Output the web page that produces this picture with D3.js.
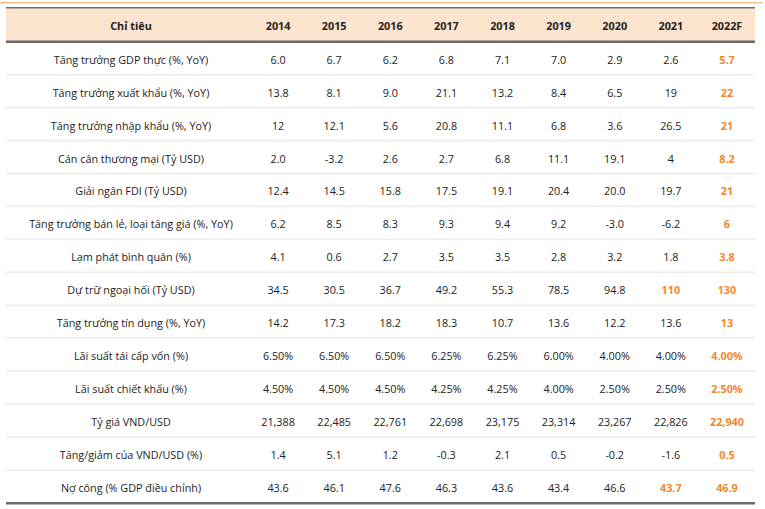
<!DOCTYPE html>
<html><head><meta charset="utf-8">
<script src="https://cdn.jsdelivr.net/npm/d3@7"></script>
<style>
html,body{margin:0;padding:0;background:#fff;}
svg{display:block;}
text{font-family:"Open Sans",sans-serif;}
</style></head>
<body>
<script>
const headerLabel = "Chỉ tiêu";
const years = ["2014","2015","2016","2017","2018","2019","2020","2021","2022F"];
const indicators = [
  "Tăng trưởng GDP thực (%, YoY)",
  "Tăng trưởng xuất khẩu (%, YoY)",
  "Tăng trưởng nhập khẩu (%, YoY)",
  "Cán cân thương mại (Tỷ USD)",
  "Giải ngân FDI (Tỷ USD)",
  "Tăng trưởng bán lẻ, loại tăng giá (%, YoY)",
  "Lạm phát bình quân (%)",
  "Dự trữ ngoại hối (Tỷ USD)",
  "Tăng trưởng tín dụng (%, YoY)",
  "Lãi suất tái cấp vốn (%)",
  "Lãi suất chiết khấu (%)",
  "Tỷ giá VND/USD",
  "Tăng/giảm của VND/USD (%)",
  "Nợ công (% GDP điều chỉnh)"
];
const gdpGrowth      = ["6.0","6.7","6.2","6.8","7.1","7.0","2.9","2.6","5.7"];
const exportGrowth   = ["13.8","8.1","9.0","21.1","13.2","8.4","6.5","19","22"];
const importGrowth   = ["12","12.1","5.6","20.8","11.1","6.8","3.6","26.5","21"];
const tradeBalance   = ["2.0","-3.2","2.6","2.7","6.8","11.1","19.1","4","8.2"];
const fdiDisbursed   = ["12.4","14.5","15.8","17.5","19.1","20.4","20.0","19.7","21"];
const retailGrowth   = ["6.2","8.5","8.3","9.3","9.4","9.2","-3.0","-6.2","6"];
const inflation      = ["4.1","0.6","2.7","3.5","3.5","2.8","3.2","1.8","3.8"];
const fxReserves     = ["34.5","30.5","36.7","49.2","55.3","78.5","94.8","110","130"];
const creditGrowth   = ["14.2","17.3","18.2","18.3","10.7","13.6","12.2","13.6","13"];
const refinanceRate  = ["6.50%","6.50%","6.50%","6.25%","6.25%","6.00%","4.00%","4.00%","4.00%"];
const discountRate   = ["4.50%","4.50%","4.50%","4.25%","4.25%","4.00%","2.50%","2.50%","2.50%"];
const exchangeRate   = ["21,388","22,485","22,761","22,698","23,175","23,314","23,267","22,826","22,940"];
const fxChange       = ["1.4","5.1","1.2","-0.3","2.1","0.5","-0.2","-1.6","0.5"];
const publicDebt     = ["43.6","46.1","47.6","46.3","43.6","43.4","46.6","43.7","46.9"];
// estimated (forecast) cells: [row, year]
const estimatedCells = [["Dự trữ ngoại hối (Tỷ USD)","2021"],["Nợ công (% GDP điều chỉnh)","2021"]];

const values = [gdpGrowth, exportGrowth, importGrowth, tradeBalance, fdiDisbursed, retailGrowth,
  inflation, fxReserves, creditGrowth, refinanceRate, discountRate, exchangeRate, fxChange, publicDebt];

const W = 765, H = 509;
const svg = d3.select("body").append("svg").attr("width", W).attr("height", H);

const left = 6, right = 755, labelRight = 250;
const headTop = 8, headBottom = 42, tableBottom = 503;
const orange = "#f5862a", ink = "#222";
const fs = 10.8;

const x = d3.scaleBand().domain(years).range([labelRight, right]);
const y = d3.scaleBand().domain(indicators).range([headBottom, tableBottom]);
const labelX = (left + labelRight) / 2 + 3;

// top orange rule
svg.append("rect").attr("x", 0).attr("y", 2).attr("width", 763).attr("height", 1.4).attr("fill", "#f5bd8e");
// header background
svg.append("rect").attr("x", left).attr("y", headTop).attr("width", right - left).attr("height", headBottom - headTop).attr("fill", "#fde4cf");
svg.append("rect").attr("x", left).attr("y", headTop - 1).attr("width", right - left).attr("height", 1.5).attr("fill", "#6b6b6b");
svg.append("rect").attr("x", left).attr("y", headBottom - 1.5).attr("width", right - left).attr("height", 2.5).attr("fill", "#6b6b6b");

// header text
const hy = (headTop + headBottom) / 2 + 1;
svg.append("text").attr("x", labelX).attr("y", hy).attr("text-anchor", "middle").attr("dy", "0.35em")
  .attr("font-size", fs).attr("font-weight", 700).attr("fill", ink).text(headerLabel);
svg.selectAll("text.year").data(years).join("text").attr("class", "year")
  .attr("x", d => x(d) + x.bandwidth() / 2).attr("y", hy).attr("dy", "0.35em").attr("text-anchor", "middle")
  .attr("font-size", fs).attr("font-weight", 700).attr("fill", ink).text(d => d);

// row separators
svg.selectAll("rect.sep").data(indicators.slice(1)).join("rect").attr("class", "sep")
  .attr("x", left).attr("y", d => y(d) - 1).attr("width", right - left).attr("height", 1.6).attr("fill", "#ececec");

// bottom rule
svg.append("rect").attr("x", left).attr("y", tableBottom - 1).attr("width", right - left).attr("height", 2.5).attr("fill", "#6b6b6b");

// labels
svg.selectAll("text.lab").data(indicators).join("text").attr("class", "lab")
  .attr("x", labelX).attr("y", d => y(d) + y.bandwidth() / 2 + 1.5).attr("dy", "0.35em").attr("text-anchor", "middle")
  .attr("font-size", fs).attr("fill", ink).text(d => d);

// cells
const isEst = (r, c) => c === "2022F" || estimatedCells.some(e => e[0] === r && e[1] === c);
const cells = [];
indicators.forEach((r, i) => years.forEach((c, j) => cells.push({ r, c, v: values[i][j] })));
svg.selectAll("text.cell").data(cells).join("text").attr("class", "cell")
  .attr("x", d => x(d.c) + x.bandwidth() / 2).attr("y", d => y(d.r) + y.bandwidth() / 2 + 1.5)
  .attr("dy", "0.35em").attr("text-anchor", "middle").attr("font-size", fs)
  .attr("font-weight", d => isEst(d.r, d.c) ? 700 : 400)
  .attr("fill", d => isEst(d.r, d.c) ? orange : ink).text(d => d.v);
</script>
</body></html>
